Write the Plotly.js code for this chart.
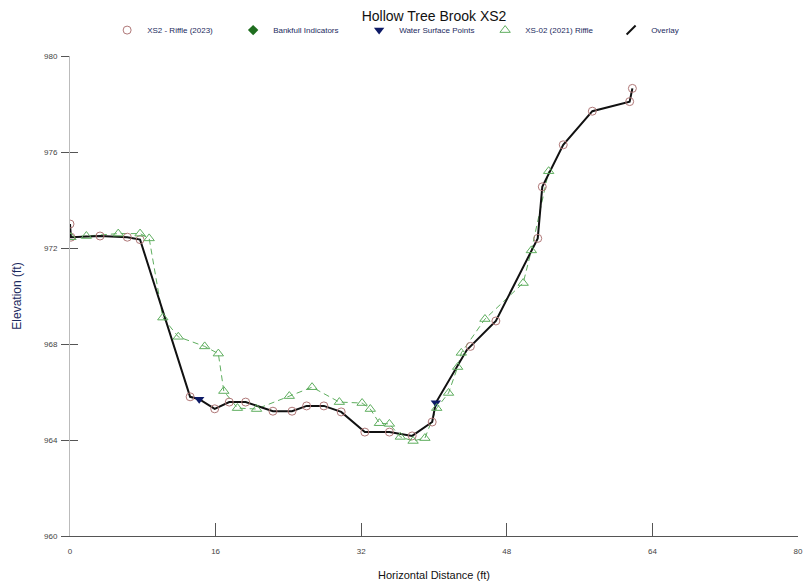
<!DOCTYPE html>
<html>
<head>
<meta charset="utf-8">
<script src="https://cdn.plot.ly/plotly-3.0.1.min.js"></script>
<style>html,body{margin:0;padding:0;background:#fff;}#chart{width:808px;height:585px;}</style>
</head>
<body>
<div id="chart"></div>
<script>
// XS2 - Riffle (2023) survey points
const xs2023X = [0, 0.1, 3.3, 6.3, 7.7, 13.2, 15.9, 17.5, 19.3, 22.3, 24.4, 26.0, 27.9, 29.8, 32.4, 35.1, 37.6, 39.8, 44.0, 46.8, 51.4, 51.9, 54.2, 57.4, 61.5, 61.8];
const xs2023Y = [973.0, 972.45, 972.5, 972.45, 972.35, 965.8, 965.3, 965.58, 965.58, 965.2, 965.2, 965.42, 965.42, 965.17, 964.33, 964.33, 964.17, 964.75, 967.9, 968.96, 972.4, 974.55, 976.3, 977.7, 978.1, 978.65];

// Water surface points
const wspX = [14.2, 40.2];
const wspY = [965.7, 965.55];

// Overlay line (2023 profile incl. water surface points)
const overlayX = [0, 0.1, 3.3, 6.3, 7.7, 13.2, 14.2, 15.9, 17.5, 19.3, 22.3, 24.4, 26.0, 27.9, 29.8, 32.4, 35.1, 37.6, 39.8, 40.2, 43.6, 44.0, 46.8, 51.4, 51.9, 54.2, 57.4, 61.5, 61.8];
const overlayY = [973.0, 972.45, 972.5, 972.45, 972.35, 965.8, 965.7, 965.3, 965.58, 965.58, 965.2, 965.2, 965.42, 965.42, 965.17, 964.33, 964.33, 964.17, 964.75, 965.55, 967.75, 967.9, 968.96, 972.4, 974.55, 976.3, 977.7, 978.1, 978.65];

// XS-02 (2021) Riffle
const xs2021X = [0.1, 1.8, 5.3, 7.7, 8.7, 10.2, 11.9, 14.8, 16.3, 16.9, 18.4, 20.5, 24.1, 26.6, 29.6, 32.1, 33.0, 34.0, 35.1, 36.3, 37.7, 39.0, 40.3, 41.6, 42.6, 43.0, 45.6, 49.8, 50.7, 52.6];
const xs2021Y = [972.45, 972.5, 972.6, 972.6, 972.4, 969.1, 968.3, 967.9, 967.6, 966.04, 965.33, 965.29, 965.83, 966.2, 965.58, 965.54, 965.29, 964.7, 964.67, 964.13, 963.96, 964.08, 965.33, 965.96, 967.04, 967.63, 969.04, 970.54, 971.9, 975.2];

const xTicks = [0, 16, 32, 48, 64, 80];
const yTicks = [960, 964, 968, 972, 976, 980];

const navy = '#1b2a5e';
const font = 'Liberation Sans, Arial, sans-serif';
const narrow = 'Liberation Sans Narrow, Liberation Sans, Arial, sans-serif';

const traces = [
  {x: xs2021X, y: xs2021Y, mode: 'lines', line: {color: '#5fae5f', width: 1, dash: '6px,4px'}, showlegend: false, hoverinfo: 'skip'},
  {x: overlayX, y: overlayY, mode: 'lines', line: {color: '#111', width: 2}, showlegend: false},
  {x: xs2023X, y: xs2023Y, mode: 'markers', name: 'XS2 - Riffle (2023)', marker: {symbol: 'circle-open', size: 8, color: '#b07878', line: {width: 1}}},
  {x: [null], y: [null], mode: 'markers', name: 'Bankfull Indicators', marker: {symbol: 'diamond', size: 8, color: '#1f6e1f'}},
  {x: wspX, y: wspY, mode: 'markers', name: 'Water Surface Points', marker: {symbol: 'triangle-down', size: 9, color: '#0d1a66'}},
  {x: xs2021X, y: xs2021Y, mode: 'markers', name: 'XS-02 (2021) Riffle', marker: {symbol: 'triangle-up-open', size: 9, color: '#5fae5f', line: {width: 1}}},
  {x: [null], y: [null], mode: 'markers', name: 'Overlay', marker: {symbol: 'line-ne-open', size: 9, color: '#111', line: {width: 2}}},
  {x: [null], y: [null], yaxis: 'y2', showlegend: false}
];

const layout = {
  width: 808, height: 585,
  margin: {l: 70, r: 10, t: 56, b: 49},
  paper_bgcolor: '#fff', plot_bgcolor: '#fff',
  font: {family: font, color: '#222'},
  title: {text: 'Hollow Tree Brook XS2', font: {family: font, size: 14, color: '#111'}, x: 0.5, xanchor: 'center', xref: 'paper', yref: 'container', y: 0.973, yanchor: 'middle'},
  showlegend: true,
  legend: {orientation: 'h', x: 0.051, xanchor: 'left', y: 1.054, yanchor: 'middle', entrywidth: 81, entrywidthmode: 'pixels', font: {family: narrow, size: 8, color: navy}, itemwidth: 30, tracegroupgap: 0, bgcolor: 'rgba(0,0,0,0)'},
  xaxis: {
    range: [0, 80], tickvals: xTicks, ticktext: xTicks.map(String),
    showgrid: false, zeroline: false, showline: true, linecolor: '#555', linewidth: 1,
    ticks: 'inside', ticklen: 13, tickcolor: '#555', tickwidth: 1,
    tickfont: {family: narrow, size: 8, color: '#444'}, ticklabelstandoff: 7,
    title: {text: 'Horizontal Distance (ft)', font: {family: narrow, size: 11, color: '#111'}, standoff: 16}
  },
  yaxis: {
    range: [960, 980], tickvals: yTicks, ticktext: yTicks.map(String),
    showgrid: false, zeroline: false, showline: true, linecolor: '#bbb', linewidth: 1,
    ticks: 'outside', ticklen: 8, tickcolor: '#555', tickwidth: 1,
    tickfont: {family: narrow, size: 8, color: '#444'}, ticklabelstandoff: 2,
    title: {text: 'Elevation (ft)', font: {family: font, size: 12, color: navy}, standoff: 19}
  },
  yaxis2: {
    range: [960, 980], tickvals: yTicks, overlaying: 'y', side: 'left',
    showgrid: false, zeroline: false, showline: false, showticklabels: false,
    ticks: 'inside', ticklen: 8, tickcolor: '#555', tickwidth: 1
  }
};

Plotly.newPlot('chart', traces, layout, {displayModeBar: false, staticPlot: true});
</script>
</body>
</html>
